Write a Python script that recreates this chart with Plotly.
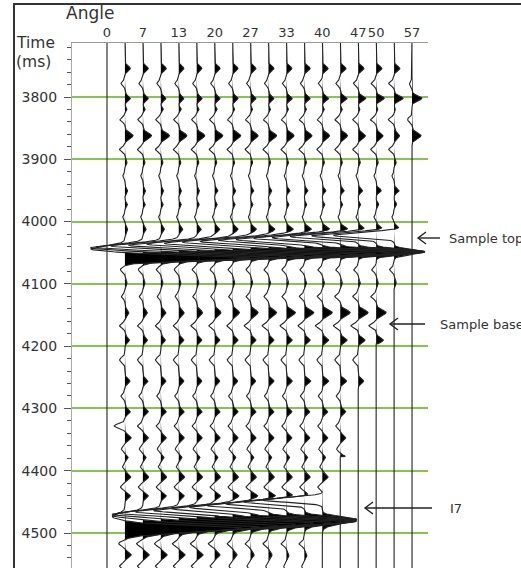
import numpy as np
import plotly.graph_objects as go

FONT = "DejaVu Sans, Arial, sans-serif"

# ---------------- data ----------------
angle_labels = ['0', '7', '13', '20', '27', '33', '40', '47', '50', '57']
label_traces = [0, 2, 4, 6, 8, 10, 12, 14, 15, 17]
n_traces = 18
time_ticks = [3800, 3900, 4000, 4100, 4200, 4300, 4400, 4500]

# live-data window of each trace (ms); trace 0 (0 deg) is empty
data_start = [0, 3700, 3700, 3700, 3700, 3700, 3700, 3700, 3700, 3700, 3700, 3700, 3700, 3700, 3700, 3700, 3700, 3770]
data_end   = [0, 4570, 4570, 4570, 4570, 4570, 4570, 4570, 4570, 4570, 4570, 4570, 4507, 4377, 4279, 4196, 4107, 3882]

# background reflections: time (ms), half-width (ms), amplitude for traces 1..17 (in trace spacings)
bg_time  = [3754, 3778, 3802, 3819, 3836, 3862, 3884, 3905, 3926, 3950, 3972, 3992, 4012,
            4077, 4098, 4120, 4146, 4167, 4190, 4222, 4256, 4280, 4305, 4328, 4347, 4365,
            4378, 4393, 4410, 4426, 4440, 4517, 4535, 4553]
bg_sigma = [5.5, 5, 5.5, 3.5, 5, 6.5, 5, 4, 4, 5, 4, 4, 5.5,
            5, 5, 5, 6.5, 5, 5.5, 6, 5.5, 5, 5.5, 5, 5.5, 5,
            4, 4, 5.5, 5, 5.5, 5, 5.5, 5]
bg_amp = [
    [0.30, 0.30, 0.30, 0.28, 0.28, 0.30, 0.30, 0.30, 0.30, 0.30, 0.32, 0.32, 0.32, 0.32, 0.32, 0.32, 0.00],
    [-0.22, -0.22, -0.22, -0.22, -0.22, -0.22, -0.22, -0.22, -0.22, -0.22, -0.22, -0.22, -0.24, -0.26, -0.28, -0.30, -0.15],
    [0.30, 0.30, 0.28, 0.28, 0.30, 0.30, 0.30, 0.30, 0.30, 0.32, 0.32, 0.35, 0.38, 0.42, 0.45, 0.50, 0.55],
    [0.12, 0.14, 0.14, 0.14, 0.14, 0.14, 0.12, 0.12, 0.12, 0.12, 0.12, 0.12, 0.12, 0.10, 0.10, 0.08, 0.00],
    [-0.28, -0.28, -0.28, -0.28, -0.28, -0.28, -0.28, -0.28, -0.28, -0.28, -0.28, -0.28, -0.30, -0.30, -0.32, -0.32, -0.25],
    [0.45, 0.48, 0.48, 0.45, 0.45, 0.45, 0.45, 0.42, 0.45, 0.42, 0.42, 0.40, 0.40, 0.40, 0.38, 0.30, 0.50],
    [-0.30, -0.30, -0.30, -0.30, -0.30, -0.30, -0.30, -0.30, -0.30, -0.30, -0.30, -0.30, -0.30, -0.30, -0.30, -0.30, 0.00],
    [0.12, 0.12, 0.12, 0.12, 0.12, 0.12, 0.12, 0.12, 0.12, 0.12, 0.12, 0.12, 0.12, 0.12, 0.12, 0.12, 0.00],
    [-0.12, -0.12, -0.12, -0.12, -0.12, -0.12, -0.12, -0.12, -0.12, -0.12, -0.12, -0.12, -0.12, -0.12, -0.12, -0.12, 0.00],
    [0.15, 0.15, 0.15, 0.15, 0.15, 0.18, 0.18, 0.18, 0.18, 0.20, 0.20, 0.20, 0.22, 0.25, 0.28, 0.28, 0.00],
    [0.14, 0.14, 0.14, 0.14, 0.14, 0.14, 0.14, 0.14, 0.14, 0.14, 0.14, 0.14, 0.14, 0.14, 0.14, 0.14, 0.00],
    [-0.12, -0.12, -0.12, -0.12, -0.12, -0.12, -0.12, -0.12, -0.12, -0.12, -0.12, -0.12, -0.12, -0.12, -0.12, -0.12, 0.00],
    [0.15, 0.18, 0.20, 0.22, 0.25, 0.28, 0.30, 0.32, 0.35, 0.38, 0.40, 0.42, 0.45, 0.45, 0.48, 0.48, 0.00],
    [-0.25, -0.25, -0.25, -0.25, -0.25, -0.25, -0.25, -0.25, -0.25, -0.25, -0.25, -0.25, -0.25, -0.25, -0.25, -0.25, 0.00],
    [0.12, 0.12, 0.12, 0.12, 0.12, 0.12, 0.12, 0.12, 0.12, 0.12, 0.12, 0.12, 0.12, 0.12, 0.12, 0.12, 0.00],
    [-0.20, -0.20, -0.20, -0.20, -0.22, -0.22, -0.22, -0.25, -0.25, -0.25, -0.28, -0.28, -0.30, -0.30, -0.30, 0.00, 0.00],
    [0.22, 0.25, 0.28, 0.30, 0.32, 0.35, 0.38, 0.42, 0.45, 0.50, 0.52, 0.55, 0.55, 0.55, 0.55, 0.00, 0.00],
    [-0.30, -0.30, -0.30, -0.30, -0.32, -0.32, -0.32, -0.35, -0.35, -0.35, -0.35, -0.38, -0.38, -0.40, -0.40, 0.00, 0.00],
    [0.25, 0.25, 0.25, 0.28, 0.28, 0.28, 0.30, 0.30, 0.30, 0.32, 0.32, 0.35, 0.38, 0.38, 0.40, 0.00, 0.00],
    [-0.30, -0.30, -0.30, -0.30, -0.30, -0.30, -0.30, -0.30, -0.30, -0.30, -0.30, -0.30, -0.30, -0.30, 0.00, 0.00, 0.00],
    [0.28, 0.28, 0.28, 0.28, 0.28, 0.28, 0.28, 0.28, 0.30, 0.32, 0.35, 0.35, 0.35, 0.30, 0.00, 0.00, 0.00],
    [-0.22, -0.22, -0.22, -0.22, -0.22, -0.22, -0.22, -0.22, -0.22, -0.22, -0.22, -0.22, -0.22, 0.00, 0.00, 0.00, 0.00],
    [0.30, 0.30, 0.30, 0.30, 0.30, 0.30, 0.30, 0.30, 0.30, 0.30, 0.30, 0.30, 0.30, 0.00, 0.00, 0.00, 0.00],
    [-0.60, -0.30, -0.25, -0.25, -0.25, -0.25, -0.25, -0.25, -0.25, -0.25, -0.25, -0.25, -0.25, 0.00, 0.00, 0.00, 0.00],
    [0.35, 0.30, 0.30, 0.30, 0.30, 0.30, 0.30, 0.30, 0.30, 0.30, 0.30, 0.30, 0.30, 0.00, 0.00, 0.00, 0.00],
    [-0.20, -0.20, -0.20, -0.20, -0.20, -0.20, -0.20, -0.20, -0.20, -0.20, -0.20, -0.20, -0.20, 0.00, 0.00, 0.00, 0.00],
    [0.18, 0.18, 0.18, 0.18, 0.18, 0.18, 0.18, 0.18, 0.18, 0.18, 0.18, 0.18, 0.30, 0.00, 0.00, 0.00, 0.00],
    [-0.15, -0.15, -0.15, -0.15, -0.15, -0.15, -0.15, -0.15, -0.15, -0.15, -0.15, -0.15, 0.00, 0.00, 0.00, 0.00, 0.00],
    [0.32, 0.32, 0.32, 0.32, 0.32, 0.32, 0.32, 0.32, 0.32, 0.32, 0.32, 0.32, 0.00, 0.00, 0.00, 0.00, 0.00],
    [-0.25, -0.25, -0.25, -0.25, -0.25, -0.25, -0.25, -0.25, -0.25, -0.25, -0.25, -0.25, 0.00, 0.00, 0.00, 0.00, 0.00],
    [0.30, 0.30, 0.30, 0.30, 0.30, 0.32, 0.35, 0.40, 0.40, 0.40, 0.40, 0.40, 0.00, 0.00, 0.00, 0.00, 0.00],
    [-0.35, -0.35, -0.35, -0.35, -0.35, -0.35, -0.30, -0.30, -0.30, -0.30, -0.30, -0.30, 0.00, 0.00, 0.00, 0.00, 0.00],
    [0.35, 0.35, 0.35, 0.35, 0.35, 0.30, 0.25, 0.20, 0.20, 0.15, 0.15, 0.00, 0.00, 0.00, 0.00, 0.00, 0.00],
    [-0.30, -0.30, -0.30, -0.30, -0.30, -0.25, -0.20, -0.20, -0.15, -0.15, -0.15, 0.00, 0.00, 0.00, 0.00, 0.00, 0.00],
]

# "Sample top" reflection (traces 1..16): trough then peak
top_neg_time = [4044, 4042, 4041, 4039, 4038, 4036, 4035, 4033, 4032, 4030, 4029, 4027, 4026, 4024, 4023, 4022]
top_neg_amp  = [-1.9, -2.9, -3.6, -3.8, -3.8, -3.8, -3.8, -3.8, -3.8, -3.8, -3.8, -3.8, -3.8, -3.8, -3.6, -3.4]
top_pos_time = [4058, 4057, 4056, 4055, 4054, 4053, 4052, 4051, 4050, 4050, 4049, 4049, 4048, 4048, 4048, 4048]
top_pos_amp  = [7.0, 7.0, 7.0, 7.0, 7.0, 7.0, 7.0, 7.0, 7.0, 7.0, 6.7, 5.7, 4.7, 3.7, 2.7, 1.7]

# "I7" reflection (traces 1..12)
i7_neg_time = [4474, 4472, 4470, 4468, 4466, 4464, 4461, 4459, 4456, 4453, 4450, 4447]
i7_neg_amp  = [-0.7, -1.7, -2.7, -3.4, -3.4, -3.4, -3.4, -3.4, -3.4, -3.4, -3.4, -3.4]
i7_pos_time = [4492, 4490, 4488, 4486, 4484, 4483, 4482, 4481, 4480, 4479, 4478, 4478]
i7_pos_amp  = [6.5, 6.5, 6.5, 6.5, 6.5, 6.5, 6.5, 5.9, 4.9, 3.9, 2.9, 1.9]

callouts = ['Sample top', 'Sample base', 'I7']

# ---------------- build ----------------
t = np.arange(3700.0, 4570.0, 0.5)


def lobe(t0, s_early, s_late):
    s = np.where(t < t0, s_early, s_late)
    return np.exp(-((t - t0) / s) ** 2)


def signal(k):
    d = np.zeros_like(t)
    if k == 0:
        return d
    i = k - 1
    for tm, sg, amps in zip(bg_time, bg_sigma, bg_amp):
        if amps[i] != 0:
            d += amps[i] * lobe(tm, sg, sg)
    if i < len(top_neg_amp):
        d += top_neg_amp[i] * lobe(top_neg_time[i], 7, 5)
        d += top_pos_amp[i] * lobe(top_pos_time[i], 5, 6)
    if i < len(i7_neg_amp):
        d += i7_neg_amp[i] * lobe(i7_neg_time[i], 7, 5)
        d += i7_pos_amp[i] * lobe(i7_pos_time[i], 6, 9)
    win = (t >= data_start[k]) & (t <= data_end[k])
    return d * win


fig = go.Figure()
sigs = [signal(k) for k in range(n_traces)]

for k in range(n_traces):
    pos = np.maximum(sigs[k], 0.0)
    xs = np.concatenate([k + pos, [k, k]])
    ys = np.concatenate([t, [t[-1], t[0]]])
    fig.add_trace(go.Scatter(x=xs, y=ys, mode='lines', fill='toself', fillcolor='#000000',
                             line=dict(width=0, color='rgba(0,0,0,0)'), hoverinfo='skip', showlegend=False))
for k in range(n_traces):
    fig.add_trace(go.Scatter(x=k + sigs[k], y=t, mode='lines',
                             line=dict(width=1.1, color='#222222'), hoverinfo='skip', showlegend=False))

# ---------------- layout ----------------
W, H = 521, 568
L, R, T, B = 72, 428, 43, 568
x_min, x_max = -1.95, 17.89
t_top, t_bottom = 3713.3, 4556.2


def px_x(px):
    return (px - L) / (R - L)


def px_y(py):
    return (B - py) / (B - T)


fig.update_layout(
    width=W, height=H, margin=dict(l=L, r=W - R, t=T, b=H - B),
    paper_bgcolor='white', plot_bgcolor='white', showlegend=False,
    font=dict(family=FONT, color='#333'),
)
fig.update_xaxes(range=[x_min, x_max], side='top', showline=True, linecolor='#9a9a9a', linewidth=1.2,
                 showgrid=False, zeroline=False, tickmode='array', tickvals=label_traces, ticktext=angle_labels,
                 ticks='', tickangle=0, tickfont=dict(family=FONT, size=13, color='#333'), ticklabelstandoff=0)
fig.update_yaxes(range=[t_bottom, t_top], showline=True, linecolor='#aaaaaa', linewidth=1,
                 showgrid=True, gridcolor='#86c44f', gridwidth=1.5, zeroline=False,
                 tickmode='linear', tick0=time_ticks[0], dtick=100,
                 ticks='outside', ticklen=7, tickwidth=1.2, tickcolor='#555',
                 tickfont=dict(family=FONT, size=14, color='#333'), ticklabelstandoff=4,
                 minor=dict(dtick=20, tick0=time_ticks[0], ticks='outside', ticklen=4, tickwidth=1,
                            tickcolor='#555', showgrid=False))

shapes = [dict(type='rect', xref='paper', yref='paper', x0=px_x(14), x1=px_x(560), y0=px_y(4), y1=px_y(620),
               line=dict(color='#333', width=2), fillcolor='rgba(0,0,0,0)', layer='above')]
arrows = [(418, 440, 238), (390, 425, 324), (365, 432, 508)]
for hx, tx, yy in arrows:
    shapes.append(dict(type='line', xref='paper', yref='paper', x0=px_x(hx), x1=px_x(tx), y0=px_y(yy), y1=px_y(yy),
                       line=dict(color='#222', width=1.4)))
    shapes.append(dict(type='path', xref='paper', yref='paper',
                       path=f"M {px_x(hx + 8)} {px_y(yy - 6)} L {px_x(hx)} {px_y(yy)} L {px_x(hx + 8)} {px_y(yy + 6)}",
                       line=dict(color='#222', width=1.4)))
fig.update_layout(shapes=shapes)

ann = [
    dict(text='Angle', x=px_x(64), y=px_y(13), xanchor='left', yanchor='middle', font=dict(size=17)),
    dict(text='Time', x=px_x(14), y=px_y(43), xanchor='left', yanchor='middle', font=dict(size=15.5)),
    dict(text='(ms)', x=px_x(14), y=px_y(62), xanchor='left', yanchor='middle', font=dict(size=15.5)),
    dict(text=callouts[0], x=px_x(447), y=px_y(238), xanchor='left', yanchor='middle', font=dict(size=13)),
    dict(text=callouts[1], x=px_x(438), y=px_y(324), xanchor='left', yanchor='middle', font=dict(size=13)),
    dict(text=callouts[2], x=px_x(448), y=px_y(508), xanchor='left', yanchor='middle', font=dict(size=13)),
]
for a in ann:
    a.update(xref='paper', yref='paper', showarrow=False)
    a['font'].update(family=FONT, color='#333')
fig.update_layout(annotations=ann)

fig.write_html("out.html")
